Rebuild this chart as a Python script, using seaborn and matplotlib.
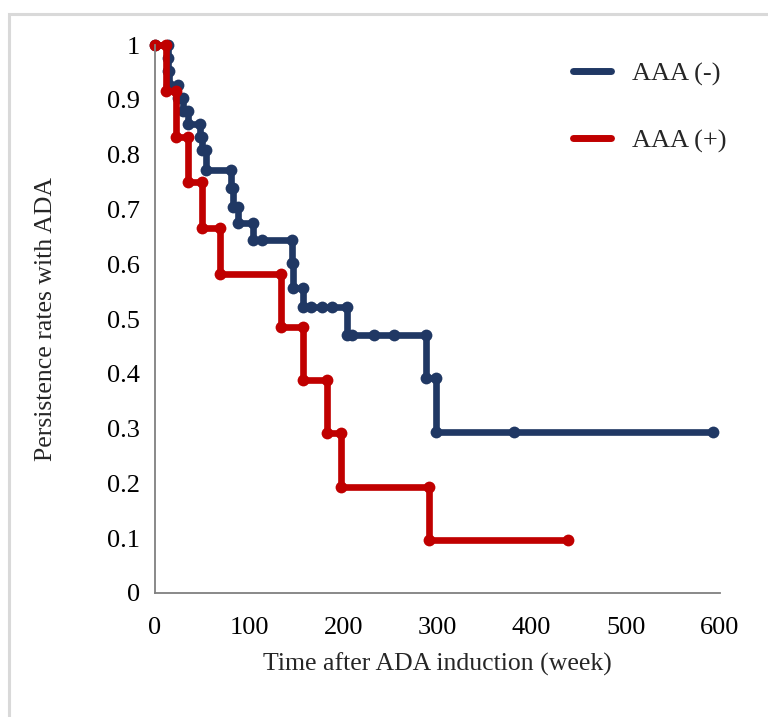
import matplotlib
matplotlib.use("Agg")
import matplotlib.pyplot as plt
import seaborn as sns
from matplotlib.lines import Line2D
from matplotlib.patches import Rectangle

# Kaplan-Meier style points, listed in drawing order (corners included)
neg_time = [0, 14, 14, 14, 15, 15, 24, 24, 30, 30, 35, 35, 48, 48, 50, 50, 54, 54,
            81, 81, 83, 83, 88, 88, 104, 104, 114, 146, 146, 147, 147, 157, 157,
            166, 177, 188, 204, 204, 209, 233, 254, 288, 288, 298, 298, 381, 593]
neg_rate = [1.0, 1.0, 0.976, 0.952, 0.952, 0.928, 0.928, 0.904, 0.904, 0.88, 0.88,
            0.856, 0.856, 0.832, 0.832, 0.808, 0.808, 0.772, 0.772, 0.739, 0.739,
            0.704, 0.704, 0.675, 0.675, 0.645, 0.645, 0.645, 0.602, 0.602, 0.557,
            0.557, 0.522, 0.522, 0.522, 0.522, 0.522, 0.470, 0.470, 0.470, 0.470,
            0.470, 0.392, 0.392, 0.294, 0.294, 0.294]

pos_time = [0, 12, 12, 22, 22, 35, 35, 50, 50, 69, 69, 134, 134, 157, 157, 183, 183,
            198, 198, 291, 291, 439]
pos_rate = [1.0, 1.0, 0.917, 0.917, 0.833, 0.833, 0.75, 0.75, 0.667, 0.667, 0.583,
            0.583, 0.486, 0.486, 0.389, 0.389, 0.292, 0.292, 0.194, 0.194, 0.097, 0.097]

labels = ["AAA (-)", "AAA (+)"]
colors = ["#203864", "#C00000"]
xticks = [0, 100, 200, 300, 400, 500, 600]
yticks = [0, 0.1, 0.2, 0.3, 0.4, 0.5, 0.6, 0.7, 0.8, 0.9, 1]

sns.set_style("white")
plt.rcParams["font.family"] = ["Liberation Serif", "DejaVu Serif"]

fig = plt.figure(figsize=(7.68, 7.17), dpi=100)
ax = fig.add_axes([0.2018, 0.173, 0.7357, 0.764])

for t, r, c in [(neg_time, neg_rate, colors[0]), (pos_time, pos_rate, colors[1])]:
    sns.lineplot(x=t, y=r, sort=False, estimator=None, color=c, lw=4.8,
                 marker="o", markersize=8.5, markeredgewidth=0, ax=ax, clip_on=False)

ax.set_xlim(0, 600)
ax.set_ylim(0, 1)
ax.set_xticks(xticks)
ax.set_xticklabels([str(v) for v in xticks])
ax.set_yticks(yticks)
ax.set_yticklabels(["0", "0.1", "0.2", "0.3", "0.4", "0.5", "0.6", "0.7", "0.8", "0.9", "1"])
ax.tick_params(axis="both", length=0, labelsize=19, colors="black")
ax.tick_params(axis="x", pad=17)
ax.tick_params(axis="y", pad=11)
for s in ["top", "right"]:
    ax.spines[s].set_visible(False)
for s in ["left", "bottom"]:
    ax.spines[s].set_color("#808080")
    ax.spines[s].set_linewidth(1.3)

ax.set_xlabel("Time after ADA induction (week)", fontsize=18.5, labelpad=10)
ax.set_ylabel("Persistence rates with ADA", fontsize=18.5, labelpad=36)

handles = [Line2D([], [], color=c, lw=5) for c in colors]
ax.legend(handles, labels, loc="upper left", bbox_to_anchor=(0.715, 0.947),
          bbox_transform=fig.transFigure, frameon=False, fontsize=19,
          handlelength=1.45, handletextpad=0.8, labelspacing=1.65)

fig.add_artist(Rectangle((9 / 768, -0.1), 1.2, 0.1 + (1 - 14 / 717),
                         transform=fig.transFigure, fill=False,
                         edgecolor="#d9d9d9", lw=2.2))

fig.savefig("out.png", dpi=100)
